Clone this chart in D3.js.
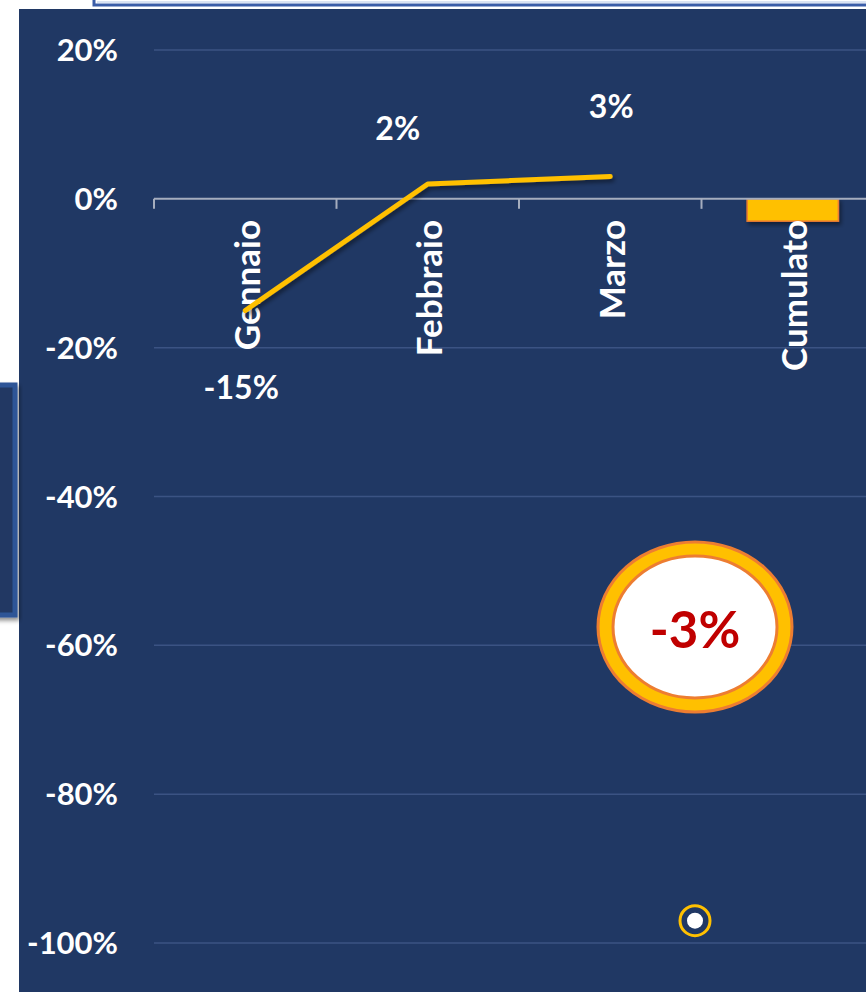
<!DOCTYPE html>
<html>
	<head>
		<style>
			body,
			html {
				margin: 0;
				padding: 0;
				background: #ffffff;
			}
			text {
				font-family: Lato, 'Open Sans', sans-serif;
				font-weight: bold;
			}
		</style>
	</head>
	<body>
		<svg id="svg" width="866" height="992"></svg>

		<script src="https://d3js.org/d3.v7.min.js"></script>
		<script>
			// data
			const categories = ['Gennaio', 'Febbraio', 'Marzo', 'Cumulato'];
			const monthly = [-15, 2, 3]; // line, first three months
			const cumulato = [-3]; // bar on the last category
			const yTicks = [20, 0, -20, -40, -60, -80, -100];
			const badge = '-3%';
			const markerValue = [-97]; // small round marker under Cumulato

			const width = 866;
			const height = 992;
			const navy = '#203864';

			const svg = d3.select('#svg');

			// shadow filter
			const defs = svg.append('defs');
			const f = defs.append('filter').attr('id', 'shadow').attr('x', '-20%').attr('y', '-20%').attr('width', '150%').attr('height', '150%');
			f.append('feDropShadow').attr('dx', 2).attr('dy', 3).attr('stdDeviation', 2).attr('flood-color', '#000').attr('flood-opacity', 0.45);

			// top box peeking in
			svg.append('rect')
				.attr('x', 94).attr('y', -20).attr('width', 800).attr('height', 25)
				.attr('fill', '#ffffff').attr('stroke', '#3A5DA8').attr('stroke-width', 3);
			svg.append('line')
				.attr('x1', 97).attr('x2', 866).attr('y1', 2).attr('y2', 2)
				.attr('stroke', '#B4C7E7').attr('stroke-width', 1);

			// chart background
			svg.append('rect')
				.attr('x', 19).attr('y', 9).attr('width', width - 19).attr('height', height - 9)
				.attr('fill', navy);

			// left box peeking in
			svg.append('rect')
				.attr('x', -10).attr('y', 385).attr('width', 25).attr('height', 230)
				.attr('fill', navy).attr('stroke', '#2F5597').attr('stroke-width', 5)
				.attr('filter', 'url(#shadow)');

			const y = d3.scaleLinear().domain([-100, 20]).range([943, 50]);
			const x = d3.scaleBand().domain(categories).range([154, 884]).padding(0);
			const bw = x.bandwidth();

			// gridlines
			svg.append('g')
				.selectAll('line')
				.data(yTicks.filter((d) => d !== 0))
				.enter()
				.append('line')
				.attr('x1', 154).attr('x2', width)
				.attr('y1', (d) => y(d)).attr('y2', (d) => y(d))
				.attr('stroke', '#3B5383').attr('stroke-width', 1.5);

			// y labels
			svg.append('g')
				.selectAll('text')
				.data(yTicks)
				.enter()
				.append('text')
				.attr('x', 118)
				.attr('y', (d) => y(d))
				.attr('dy', '0.36em')
				.attr('text-anchor', 'end')
				.attr('fill', '#ffffff')
				.attr('font-size', 31)
				.text((d) => d + '%');

			// bar for Cumulato
			svg.append('rect')
				.datum(cumulato[0])
				.attr('x', x('Cumulato') + bw * 0.25)
				.attr('width', bw * 0.5)
				.attr('y', y(0))
				.attr('height', (d) => y(d) - y(0))
				.attr('fill', '#FFC000')
				.attr('stroke', '#ED7D31')
				.attr('stroke-width', 1.5)
				.attr('filter', 'url(#shadow)');

			// zero axis with tick marks at band edges
			const axisG = svg.append('g');
			axisG.append('line')
				.attr('x1', 154).attr('x2', width)
				.attr('y1', y(0)).attr('y2', y(0))
				.attr('stroke', '#A5ADBE').attr('stroke-width', 2);
			axisG.selectAll('.tk')
				.data(categories)
				.enter()
				.append('line')
				.attr('x1', (d) => x(d)).attr('x2', (d) => x(d))
				.attr('y1', y(0)).attr('y2', y(0) + 10)
				.attr('stroke', '#A5ADBE').attr('stroke-width', 2);

			// category labels, rotated
			svg.append('g')
				.selectAll('text')
				.data(categories)
				.enter()
				.append('text')
				.attr('transform', (d) => `translate(${x(d) + bw / 2 + 2}, 220) rotate(-90)`)
				.attr('text-anchor', 'end')
				.attr('dy', '0.36em')
				.attr('fill', '#ffffff')
				.attr('font-size', 35)
				.text((d) => d);

			// line for the months
			const lineData = monthly.map((v, i) => ({ c: categories[i], v: v }));
			const linegen = d3.line()
				.x((d) => x(d.c) + bw / 2)
				.y((d) => y(d.v));
			svg.append('path')
				.attr('d', linegen(lineData))
				.attr('fill', 'none')
				.attr('stroke', '#FFC000')
				.attr('stroke-width', 5)
				.attr('stroke-linecap', 'round')
				.attr('stroke-linejoin', 'round')
				.attr('filter', 'url(#shadow)');

			// data labels
			const labelOffsets = [
				{ dx: -4, dy: 77 },
				{ dx: -30, dy: -55 },
				{ dx: 1, dy: -70 },
			];
			svg.append('g')
				.selectAll('text')
				.data(lineData)
				.enter()
				.append('text')
				.attr('x', (d, i) => x(d.c) + bw / 2 + labelOffsets[i].dx)
				.attr('y', (d, i) => y(d.v) + labelOffsets[i].dy)
				.attr('dy', '0.36em')
				.attr('text-anchor', 'middle')
				.attr('fill', '#ffffff')
				.attr('font-size', 32)
				.text((d) => d.v + '%');

			// badge with the cumulative value
			const bx = 695;
			const by = 627;
			svg.append('ellipse')
				.attr('cx', bx).attr('cy', by).attr('rx', 97).attr('ry', 85)
				.attr('fill', '#FFC000').attr('stroke', '#ED7D31').attr('stroke-width', 3);
			svg.append('ellipse')
				.attr('cx', bx).attr('cy', by).attr('rx', 82).attr('ry', 71)
				.attr('fill', '#ffffff').attr('stroke', '#ED7D31').attr('stroke-width', 3);
			svg.append('text')
				.attr('x', bx).attr('y', by + 3)
				.attr('dy', '0.36em')
				.attr('text-anchor', 'middle')
				.attr('fill', '#C00000')
				.attr('font-size', 51)
				.text(badge);

			// small marker
			svg.append('g')
				.selectAll('circle')
				.data(markerValue)
				.enter()
				.append('circle')
				.attr('cx', bx)
				.attr('cy', (d) => y(d))
				.attr('r', 15)
				.attr('fill', navy)
				.attr('stroke', '#FFC000')
				.attr('stroke-width', 3);
			svg.append('circle')
				.attr('cx', bx).attr('cy', y(markerValue[0]))
				.attr('r', 8).attr('fill', '#ffffff');
		</script>
	</body>
</html>
